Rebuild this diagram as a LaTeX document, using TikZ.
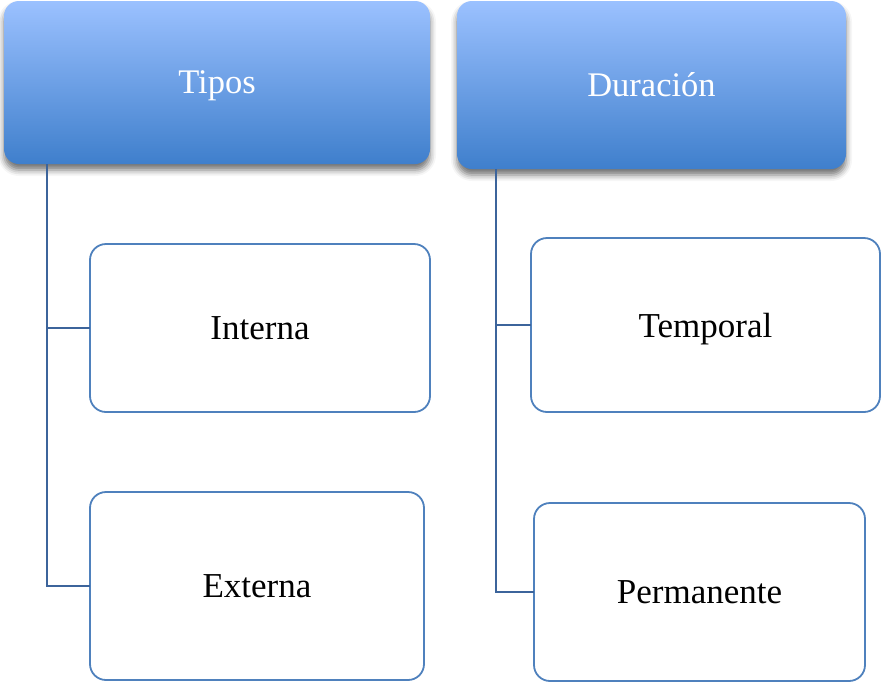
\documentclass[tikz,border=0pt]{standalone}
\usepackage{fontspec}
\setmainfont{Liberation Serif}
\usetikzlibrary{shadows.blur}
\definecolor{gradtop}{RGB}{155,193,255}
\definecolor{gradmid}{RGB}{128,168,236}
\definecolor{gradbot}{RGB}{63,127,204}
\definecolor{childline}{RGB}{79,129,189}
\definecolor{connline}{RGB}{60,100,155}
\tikzset{
  header/.style={rectangle, rounded corners=15pt, inner sep=0pt, outer sep=0pt,
    top color=gradtop, middle color=gradmid, bottom color=gradbot, draw=none, text=white,
    font=\fontsize{34.5}{40}\selectfont, text depth=0pt,
    blur shadow={shadow xshift=0pt, shadow yshift=-6pt, shadow blur radius=6pt, shadow opacity=55}},
  child/.style={rectangle, rounded corners=16pt, inner sep=0pt, outer sep=0pt,
    draw=childline, line width=1.8pt, fill=white, text=black,
    font=\fontsize{35}{40}\selectfont, text depth=0pt},
  conn/.style={draw=connline, line width=2.4pt}
}
\begin{document}
\begin{tikzpicture}[x=1pt,y=-1pt]
\useasboundingbox (0,0) rectangle (882,683);
\node[header, minimum width=426pt, minimum height=163pt] (tipos) at (217,82.5) {Tipos};
\node[header, minimum width=389pt, minimum height=168pt] (duracion) at (651.5,85) {Duración};
\node[child, minimum width=340pt, minimum height=168pt] (interna) at (260,328) {Interna};
\node[child, minimum width=334pt, minimum height=188pt] (externa) at (257,586) {Externa};
\node[child, minimum width=349pt, minimum height=174pt] (temporal) at (705.5,325) {Temporal};
\node[child, minimum width=331pt, minimum height=178pt] (permanente) at (699.5,592) {Permanente};
\coordinate (lroot) at ([xshift=43pt]tipos.south west);
\coordinate (rroot) at ([xshift=39pt]duracion.south west);
\draw[conn] (lroot) |- (interna.west);
\draw[conn] (lroot) |- (externa.west);
\draw[conn] (rroot) |- (temporal.west);
\draw[conn] (rroot) |- (permanente.west);
\end{tikzpicture}
\end{document}
